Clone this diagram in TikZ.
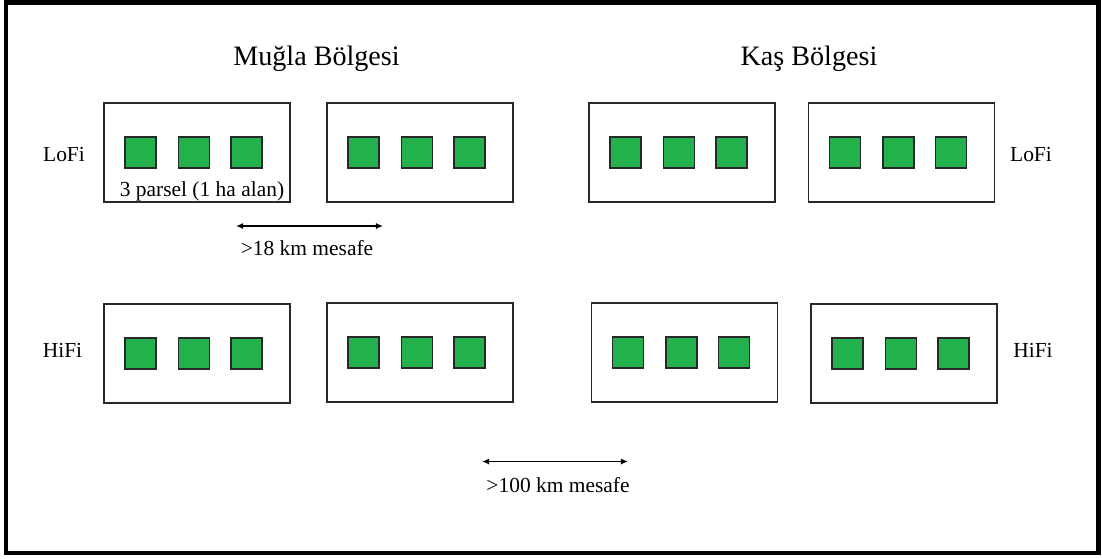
\documentclass[tikz,border=0pt]{standalone}
\usepackage{fontspec}
\setmainfont{Liberation Serif}
\usepackage{tikz}
\usetikzlibrary{arrows.meta}
\definecolor{parselgreen}{RGB}{34,177,76}
\definecolor{kenar}{RGB}{40,40,40}

\begin{document}
\begin{tikzpicture}[x=0.02cm,y=-0.02cm,
  baslik/.style={font=\fontsize{16}{19}\selectfont, anchor=base},
  etiket/.style={font=\fontsize{12.2}{14}\selectfont, anchor=base},
  alan/.style={draw=kenar, line width=.9pt, minimum width=3.72cm, minimum height=1.99cm, inner sep=0pt},
  parsel/.style={draw=kenar, line width=1pt, fill=parselgreen, minimum size=.62cm, inner sep=0pt},
  mesafe/.style={line width=.9pt, {Latex[length=4pt,width=3.5pt]}-{Latex[length=4pt,width=3.5pt]}}]
\useasboundingbox (0,0) rectangle (1102,558);
\draw [line width=2.8pt] (6,2.5) rectangle (1098.5,553);
% bolge basliklari
\node[baslik] (mugla) at (316.5,65) {Muğla Bölgesi};
\node[baslik] (kas) at (809,65) {Kaş Bölgesi};
% alanlar ve parseller
\foreach \bx/\by/\bn in {197/152.5/m1, 420/152.5/m2, 682/152.5/k1, 901.5/152.5/k2,
                         197/353.5/m3, 420/352.5/m4, 684.5/352.5/k3, 904/353.5/k4} {
  \node[alan] (\bn) at (\bx,\by) {};
  \foreach \dx [count=\i] in {-56.5,-3,49.5}
    \node[parsel] (\bn-\i) at (\bx+\dx,\by) {};
}
\node[etiket] (p1) at (202,196) {3 parsel (1 ha alan)};
% LoFi / HiFi
\node[etiket] (lo1) at (64,161) {LoFi};
\node[etiket] (lo2) at (1031,161) {LoFi};
\node[etiket] (hi1) at (62.5,357) {HiFi};
\node[etiket] (hi2) at (1033,357) {HiFi};
% mesafeler
\coordinate (a18l) at (236,226);
\coordinate (a18r) at (383,226);
\draw[mesafe] (a18l) -- (a18r);
\node[etiket] (d18) at (307,255) {>18 km mesafe};
\coordinate (a100l) at (482,461.5);
\coordinate (a100r) at (628,461.5);
\draw[mesafe] (a100l) -- (a100r);
\node[etiket] (d100) at (558,492) {>100 km mesafe};
\end{tikzpicture}
\end{document}
